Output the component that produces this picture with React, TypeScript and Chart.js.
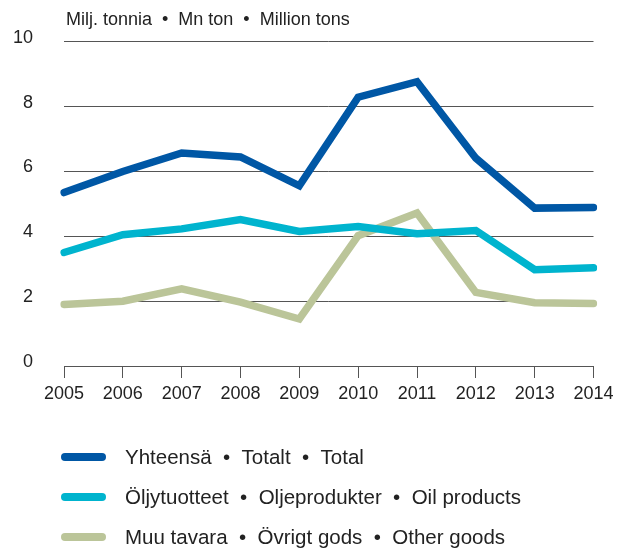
import React, { useEffect, useRef } from "react";
import { Chart, registerables } from "chart.js";

Chart.register(...registerables);

const years = ["2005", "2006", "2007", "2008", "2009", "2010", "2011", "2012", "2013", "2014"];
const total = [5.35, 6.0, 6.57, 6.45, 5.56, 8.29, 8.77, 6.41, 4.87, 4.89];
const oilProducts = [3.5, 4.05, 4.23, 4.52, 4.15, 4.3, 4.08, 4.18, 2.97, 3.03];
const otherGoods = [1.9, 2.0, 2.38, 1.97, 1.45, 4.02, 4.72, 2.27, 1.95, 1.93];
const seriesLabels = [
  "Yhteensä  •  Totalt  •  Total",
  "Öljytuotteet  •  Oljeprodukter  •  Oil products",
  "Muu tavara  •  Övrigt gods  •  Other goods",
];
const unitTitle = "Milj. tonnia  •  Mn ton  •  Million tons";
const colors = ["#0057A5", "#00B4CE", "#BBC599"];

const FONT = "'Liberation Sans', Arial, sans-serif";

const overlayPlugin = {
  id: "overlay",
  afterDraw(chart: any) {
    const ctx = chart.ctx;
    ctx.save();
    ctx.fillStyle = "#222";
    ctx.font = `18px ${FONT}`;
    ctx.textBaseline = "middle";
    ctx.textAlign = "left";
    ctx.fillText(unitTitle, 66, 20.5);

    chart.data.datasets.forEach((ds: any, i: number) => {
      const y = 457 + i * 40;
      ctx.strokeStyle = ds.borderColor;
      ctx.lineWidth = 8;
      ctx.lineCap = "round";
      ctx.beginPath();
      ctx.moveTo(65, y);
      ctx.lineTo(102, y);
      ctx.stroke();
      ctx.fillStyle = "#222";
      ctx.font = `20.5px ${FONT}`;
      ctx.fillText(ds.label, 125, y + 1);
    });
    ctx.restore();
  },
};

export default function App() {
  const ref = useRef<HTMLCanvasElement>(null);
  useEffect(() => {
    const canvas = ref.current!;
    const mk = (label: string, data: number[], color: string, order: number) => ({
      label,
      data,
      order,
      borderColor: color,
      backgroundColor: color,
      borderWidth: 7.5,
      borderCapStyle: "round" as const,
      borderJoinStyle: "miter" as const,
      pointRadius: 0,
      tension: 0,
      fill: false,
    });
    const chart = new Chart(canvas, {
      type: "line",
      data: {
        labels: years,
        datasets: [
          mk(seriesLabels[0], total, colors[0], 0),
          mk(seriesLabels[1], oilProducts, colors[1], 1),
          mk(seriesLabels[2], otherGoods, colors[2], 2),
        ],
      },
      options: {
        responsive: false,
        animation: false,
        devicePixelRatio: 1,
        layout: { padding: { top: 40.5, left: 0, right: 34.5, bottom: 140 } },
        plugins: {
          legend: { display: false },
          title: { display: false },
          tooltip: { enabled: false },
        },
        scales: {
          x: {
            offset: false,
            afterFit: (s: any) => {
              s.height = 45;
            },
            grid: {
              display: true,
              drawOnChartArea: false,
              drawTicks: true,
              tickLength: 12,
              color: "#555",
              lineWidth: 1,
            },
            border: { display: true, color: "#555", width: 1 },
            ticks: {
              color: "#222",
              font: { family: FONT, size: 18 },
              padding: 5,
              maxRotation: 0,
              autoSkip: false,
            },
          },
          y: {
            min: 0,
            max: 10,
            afterFit: (s: any) => {
              s.width = 64;
            },
            grid: { color: "#555", lineWidth: 1, drawTicks: false },
            border: { display: false },
            ticks: {
              stepSize: 2,
              color: "#222",
              font: { family: FONT, size: 18 },
              padding: 31,
              labelOffset: -4,
            },
          },
        },
      },
      plugins: [overlayPlugin],
    });
    return () => chart.destroy();
  }, []);
  return (
    <div style={{ position: "fixed", left: 0, top: 0, width: 628, height: 551, background: "#fff" }}>
      <canvas ref={ref} width={628} height={551} style={{ width: 628, height: 551 }} />
    </div>
  );
}
